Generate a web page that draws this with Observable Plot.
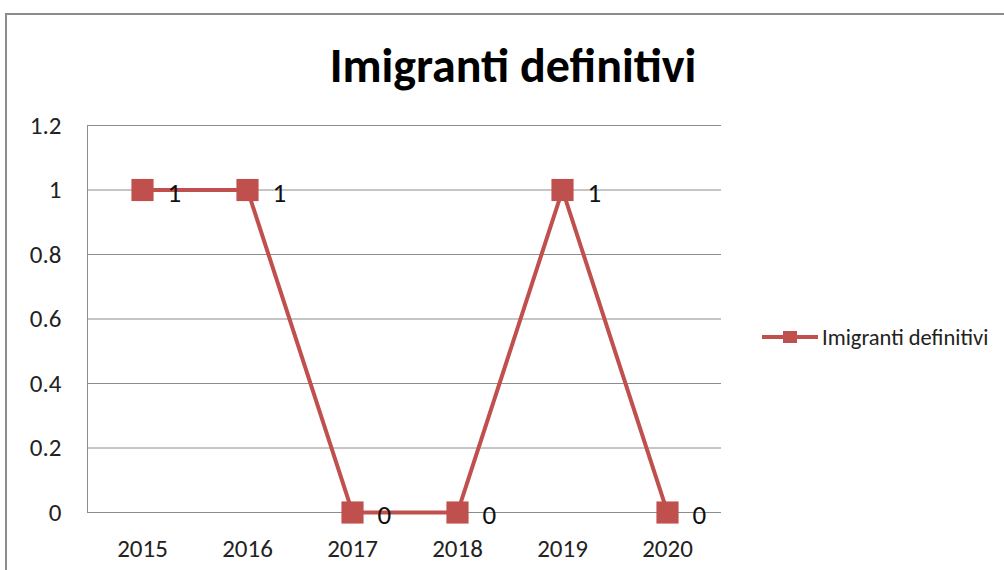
<!DOCTYPE html>
<html>
<head>
<meta charset="utf-8">
<script src="https://cdn.jsdelivr.net/npm/d3@7"></script>
<script src="https://cdn.jsdelivr.net/npm/@observablehq/plot@0.6"></script>
<style>
  html, body { margin: 0; padding: 0; background: #fff; }
  #wrap { position: relative; width: 1004px; height: 570px; overflow: hidden; font-family: Calibri, Carlito, "Open Sans", "Liberation Sans", sans-serif; }
  #frame { position: absolute; left: 5px; top: 13px; width: 1100px; height: 700px; border: 2px solid #8c8c8c; box-sizing: border-box; }
  #title { position: absolute; left: 0; top: 36px; width: 1026px; text-align: center; font-size: 48px; line-height: 60px; font-weight: bold; color: #000; }
  #legend { position: absolute; left: 762px; top: 324px; height: 26px; display: flex; align-items: center; font-size: 22.5px; color: #222; }
  #legend .sw { position: relative; width: 56px; height: 26px; margin-right: 4px; }
  #legend .sw .ln { position: absolute; left: 0; top: 11px; width: 56px; height: 4px; background: #C0504D; }
  #legend .sw .mk { position: absolute; left: 21px; top: 7px; width: 14px; height: 12px; background: #C0504D; }
  #chart { position: absolute; left: 0; top: 0; }
</style>
</head>
<body>
<div id="wrap">
  <div id="frame"></div>
  <div id="chart"></div>
  <div id="title">Imigranti definitivi</div>
  <div id="legend"><div class="sw"><div class="ln"></div><div class="mk"></div></div><span>Imigranti definitivi</span></div>
</div>
<script>
const years = ["2015", "2016", "2017", "2018", "2019", "2020"];
const values = [1, 1, 0, 0, 1, 0];
const yTicks = [0, 0.2, 0.4, 0.6, 0.8, 1, 1.2];
const seriesName = "Imigranti definitivi";

const data = years.map((y, i) => ({year: y, value: values[i]}));
const color = "#C0504D";
const font = 'Calibri, Carlito, "Open Sans", "Liberation Sans", sans-serif';

const chart = Plot.plot({
  width: 1004,
  height: 570,
  marginLeft: 87,
  marginRight: 283,
  marginTop: 125,
  marginBottom: 58,
  style: {fontFamily: font, background: "transparent", overflow: "visible"},
  x: {type: "point", domain: years, padding: 0.5, label: null},
  y: {domain: [0, 1.2], ticks: yTicks, label: null},
  marks: [
    Plot.ruleY(yTicks, {stroke: "#8c8c8c", strokeWidth: 1}),
    Plot.axisX({tickSize: 0, tickPadding: 27, fontSize: 25, fill: "#222", label: null}),
    Plot.axisY({ticks: yTicks, tickSize: 0, tickPadding: 26, fontSize: 25, fill: "#222", label: null, tickFormat: d => String(d)}),
    Plot.frame({anchor: "left", stroke: "#8c8c8c", strokeWidth: 1}),
    Plot.line(data, {x: "year", y: "value", stroke: color, strokeWidth: 4}),
    Plot.dot(data, {x: "year", y: "value", symbol: "square", r: 12.5, fill: color, stroke: "none"}),
    Plot.text(data, {x: "year", y: "value", text: d => String(d.value), dx: 25, dy: 3, textAnchor: "start", fontSize: 27, fill: "#111"})
  ]
});
document.getElementById("chart").appendChild(chart);
</script>
</body>
</html>
